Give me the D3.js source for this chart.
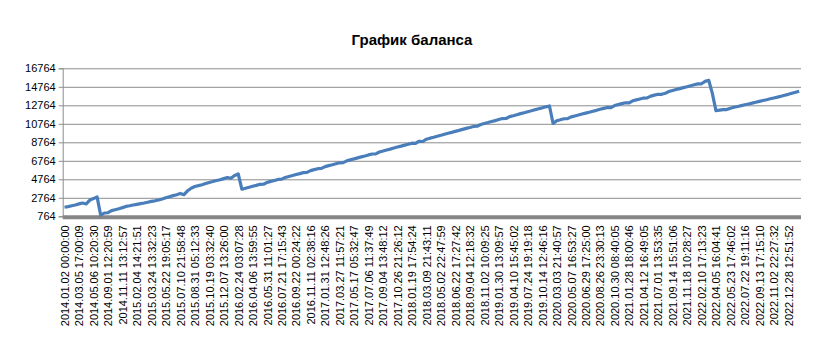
<!DOCTYPE html>
<html>
<head>
<meta charset="utf-8">
<script src="https://cdn.jsdelivr.net/npm/d3@7"></script>
<style>
  body { margin: 0; background: #fff; }
  text { font-family: "Liberation Sans", Arial, sans-serif; }
</style>
</head>
<body>
<svg id="chart" width="819" height="362"></svg>
<script>
var titleText = "График баланса";

// one label every LABEL_STEP trades
var LABEL_STEP = 4;
var labels = [
  "2014.01.02 00:00:00", "2014.03.05 17:00:09", "2014.05.06 10:20:30", "2014.09.01 12:20:59",
  "2014.11.11 13:12:57", "2015.02.04 14:21:51", "2015.03.24 13:32:23", "2015.05.22 19:05:17",
  "2015.07.10 21:58:48", "2015.08.31 05:12:33", "2015.10.19 03:32:40", "2015.12.07 13:26:00",
  "2016.02.24 03:07:28", "2016.04.06 13:59:55", "2016.05.31 11:01:27", "2016.07.21 17:15:43",
  "2016.09.22 00:24:22", "2016.11.11 02:38:16", "2017.01.31 12:48:26", "2017.03.27 11:57:21",
  "2017.05.17 05:32:47", "2017.07.06 11:37:49", "2017.09.04 13:48:12", "2017.10.26 21:26:12",
  "2018.01.19 17:54:24", "2018.03.09 21:43:11", "2018.05.02 22:47:59", "2018.06.22 17:27:42",
  "2018.09.04 12:18:32", "2018.11.02 10:09:25", "2019.01.30 13:09:57", "2019.04.10 15:45:02",
  "2019.07.24 19:19:18", "2019.10.14 12:46:16", "2020.03.03 21:40:57", "2020.05.07 16:53:27",
  "2020.06.29 17:25:00", "2020.08.26 23:30:13", "2020.10.30 08:40:05", "2021.01.28 18:00:46",
  "2021.04.12 16:49:05", "2021.07.01 13:53:35", "2021.09.14 15:51:06", "2021.11.18 10:28:27",
  "2022.02.10 17:13:23", "2022.04.05 16:04:41", "2022.05.23 17:46:02", "2022.07.22 19:11:16",
  "2022.09.13 17:15:10", "2022.11.02 22:27:32", "2022.12.28 12:51:52"
];

var yTicks = [764, 2764, 4764, 6764, 8764, 10764, 12764, 14764, 16764];

var balance = [
  1740, 1810, 1900, 1990, 2110, 2200, 2100, 2520, 2680, 2870,
  880, 1120, 1150, 1380, 1480, 1580, 1700, 1830, 1900, 1990,
  2060, 2130, 2200, 2290, 2380, 2440, 2530, 2640, 2760, 2880,
  3000, 3100, 3240, 3100, 3520, 3800, 3990, 4080, 4180, 4300,
  4420, 4520, 4630, 4720, 4840, 4950, 4880, 5180, 5340, 3690,
  3800, 3900, 4010, 4110, 4220, 4230, 4430, 4540, 4640, 4750,
  4780, 4960, 5070, 5170, 5280, 5380, 5490, 5510, 5700, 5810,
  5910, 5940, 6130, 6240, 6340, 6450, 6550, 6570, 6760, 6870,
  6970, 7080, 7190, 7290, 7400, 7500, 7520, 7720, 7820, 7930,
  8030, 8140, 8250, 8350, 8460, 8560, 8670, 8640, 8880, 8850,
  9100, 9210, 9310, 9420, 9520, 9630, 9740, 9840, 9950, 10050,
  10160, 10270, 10370, 10480, 10500, 10690, 10800, 10900, 11010, 11110,
  11220, 11330, 11340, 11540, 11640, 11750, 11860, 11960, 12070, 12170,
  12280, 12390, 12490, 12600, 12690, 10800, 11100, 11200, 11310, 11320,
  11510, 11610, 11710, 11820, 11920, 12020, 12120, 12220, 12330, 12430,
  12530, 12520, 12740, 12840, 12940, 13040, 13020, 13250, 13350, 13450,
  13550, 13560, 13760, 13860, 13960, 13950, 14060, 14260, 14370, 14470,
  14570, 14670, 14770, 14880, 14980, 15080, 15090, 15350, 15470, 14050,
  12180, 12250, 12300, 12300, 12450, 12550, 12640, 12730, 12820, 12910,
  13000, 13100, 13190, 13280, 13370, 13470, 13560, 13650, 13750, 13850,
  13950, 14060, 14170, 14280
];

var svg = d3.select("#chart");
var plotLeft = 62.7, plotRight = 801, plotTop = 68.3, plotBottom = 216.3;

var x = d3.scalePoint()
  .domain(d3.range(balance.length))
  .range([plotLeft, plotRight])
  .padding(0.5);

var y = d3.scaleLinear()
  .domain([764, 16764])
  .range([plotBottom, plotTop]);

svg.append("rect").attr("width", 819).attr("height", 362).attr("fill", "#fff");

// title
svg.append("text")
  .attr("x", 412).attr("y", 45)
  .attr("text-anchor", "middle")
  .attr("font-size", 15).attr("font-weight", "bold")
  .attr("fill", "#000")
  .text(titleText);

// horizontal grid
svg.append("g")
  .attr("transform", "translate(" + plotLeft + ",0)")
  .call(d3.axisLeft(y).tickValues(yTicks).tickSize(-(plotRight - plotLeft)).tickFormat(""))
  .call(function(g) { g.select(".domain").remove(); })
  .selectAll("line").attr("stroke", "#8c8c8c").attr("stroke-width", 1);

// y axis with labels
var yAxis = svg.append("g")
  .attr("transform", "translate(" + plotLeft + ",0)")
  .call(d3.axisLeft(y).tickValues(yTicks).tickSize(4).tickPadding(3).tickFormat(d3.format("d")));
yAxis.select(".domain").attr("stroke", "#8c8c8c");
yAxis.selectAll("line").attr("stroke", "#8c8c8c");
yAxis.selectAll("text").attr("font-size", 11).attr("fill", "#000")
  .style("font-family", "'Liberation Sans', Arial, sans-serif");

// x axis: thick bar and rotated category labels
var xTicks = d3.range(0, balance.length, LABEL_STEP);
var xAxis = svg.append("g")
  .attr("transform", "translate(0," + (plotBottom + 1) + ")")
  .call(d3.axisBottom(x).tickValues(xTicks).tickSize(0).tickPadding(0)
    .tickFormat(function(i) { return labels[i / LABEL_STEP]; }));
xAxis.select(".domain").remove();
xAxis.selectAll("text")
  .attr("font-size", 11).attr("fill", "#000")
  .style("font-family", "'Liberation Sans', Arial, sans-serif")
  .attr("text-anchor", "end")
  .attr("transform", "rotate(-90)")
  .attr("x", -8).attr("y", 0).attr("dy", "0.35em");

svg.append("line")
  .attr("x1", plotLeft).attr("x2", plotRight)
  .attr("y1", plotBottom + 1).attr("y2", plotBottom + 1)
  .attr("stroke", "#868686").attr("stroke-width", 4);

// balance line
var line = d3.line()
  .x(function(d, i) { return x(i); })
  .y(function(d) { return y(d); });

svg.append("path")
  .datum(balance)
  .attr("fill", "none")
  .attr("stroke", "#4a7ebb")
  .attr("stroke-width", 3.2)
  .attr("stroke-linejoin", "round")
  .attr("d", line);
</script>
</body>
</html>
